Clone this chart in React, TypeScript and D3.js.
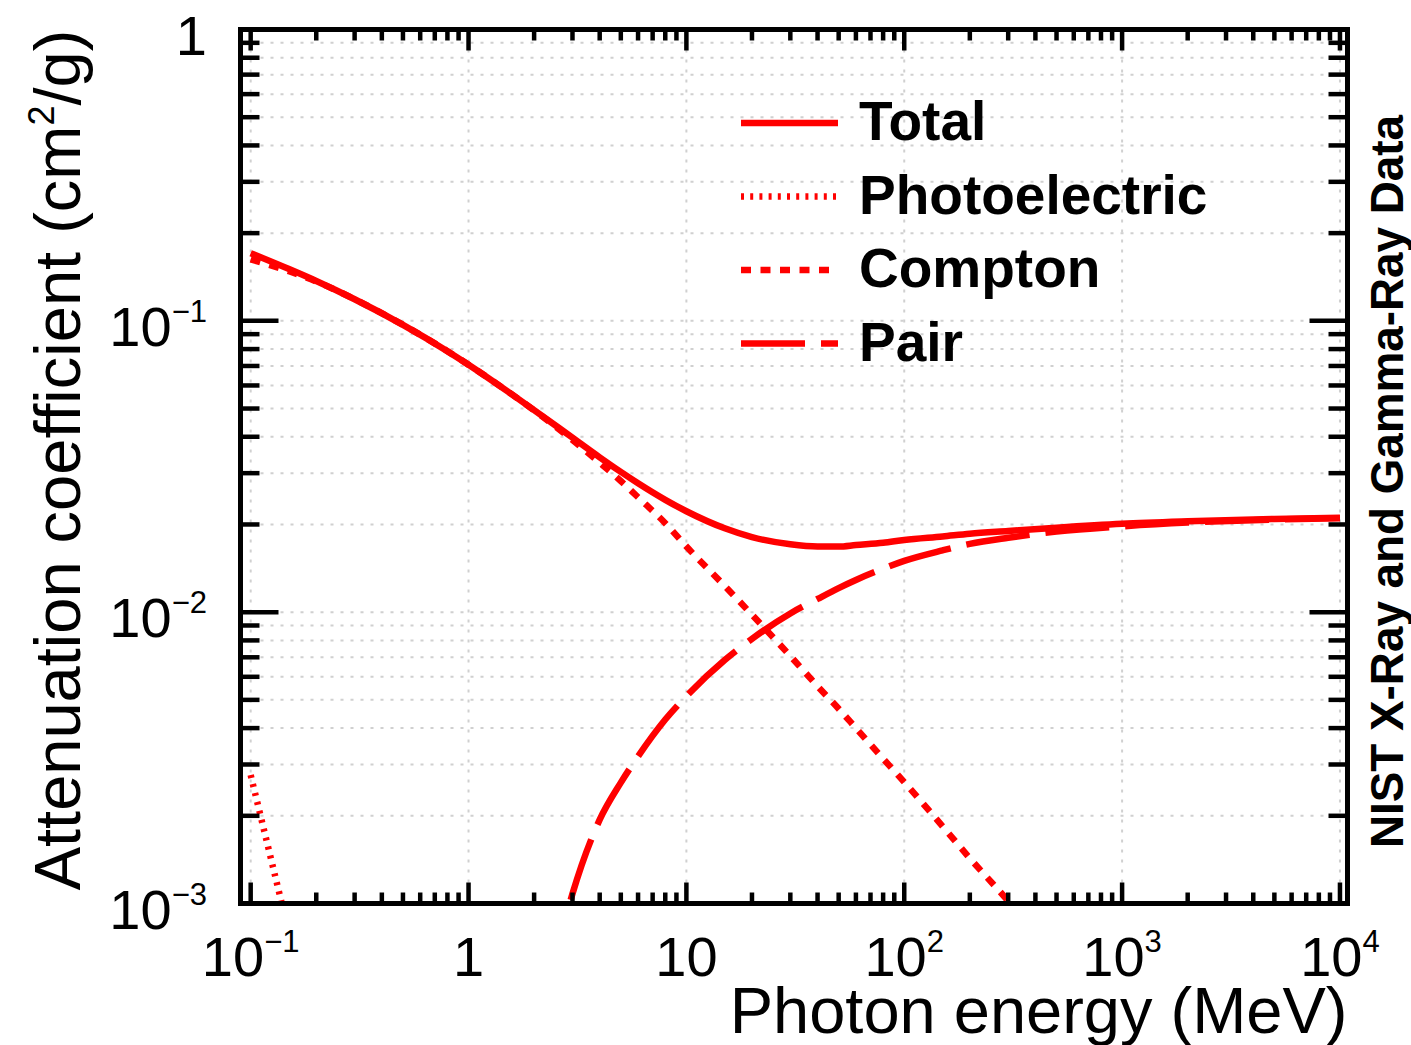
import * as d3 from "d3";
import { useMemo } from "react";

const WIDTH = 1411;
const HEIGHT = 1045;

const FRAME = {
  left: 240.5,
  right: 1347.5,
  top: 29.5,
  bottom: 903.5,
};

const X_DOMAIN: [number, number] = [0.0898, 10830];
const Y_DOMAIN: [number, number] = [1e-3, 1];

const FONT = "'Liberation Sans', Arial, Helvetica, sans-serif";
const RED = "#ff0000";

// photon energies (MeV) shared by every series
const ENERGY = [
  0.1, 0.15, 0.2, 0.3, 0.5, 0.8, 1, 1.5, 2, 3, 4, 5, 6, 8, 10, 15, 20, 30, 40,
  50, 60, 80, 100, 150, 200, 300, 500, 1000, 2000, 5000, 10000,
];

// cm2/g (null = not drawn)
const TOTAL = [
  0.1707, 0.1505, 0.137, 0.1186, 0.0969, 0.0787, 0.0707, 0.0575, 0.0494,
  0.0397, 0.034, 0.0303, 0.0277, 0.0243, 0.0222, 0.0194, 0.0181, 0.0171,
  0.0168, 0.0168, 0.017, 0.0173, 0.0177, 0.0182, 0.0186, 0.019, 0.0195,
  0.0201, 0.0205, 0.0209, 0.0211,
];

const PHOTO = [
  0.00276, 0.00079, null, null, null, null, null, null, null, null, null,
  null, null, null, null, null, null, null, null, null, null, null, null,
  null, null, null, null, null, null, null, null,
];

const COMPTON = [
  0.1626, 0.148, 0.1365, 0.1187, 0.0969, 0.0787, 0.0707, 0.0575, 0.0493,
  0.039, 0.0326, 0.0282, 0.0248, 0.0202, 0.0168, 0.0123, 0.0098, 0.00707,
  0.00557, 0.00466, 0.004, 0.00314, 0.00261, 0.00184, 0.00143, 0.00102,
  0.00064, null, null, null, null,
];

const PAIR = [
  null, null, null, null, null, null, null, null, 0.0003, 0.00108, 0.00194,
  0.0026, 0.0032, 0.00428, 0.00515, 0.00685, 0.0081, 0.0099, 0.0111,
  0.0121, 0.0129, 0.0141, 0.015, 0.0163, 0.01715, 0.018, 0.0189, 0.0197,
  0.0203, 0.0208, 0.021,
];

const SERIES_NAMES = ["Total", "Photoelectric", "Compton", "Pair"];
const SERIES_VALUES = [TOTAL, PHOTO, COMPTON, PAIR];
const SERIES_DASH = [undefined, "3 6.2", "10 9.5", "64 16"];

const X_MAJOR = [-1, 0, 1, 2, 3, 4];
const Y_MAJOR = [-3, -2, -1, 0];
const MINOR_STEPS = [2, 3, 4, 5, 6, 7, 8, 9];

const X_TITLE = "Photon energy (MeV)";
const SIDE_TEXT = "NIST X-Ray and Gamma-Ray Data";

function PowLabel({
  exp,
  x,
  y,
  anchor,
}: {
  exp: number;
  x: number;
  y: number;
  anchor: "middle" | "end";
}) {
  if (exp === 0 || exp === 1) {
    return (
      <text x={x} y={y} textAnchor={anchor} fontSize={56} fontFamily={FONT}>
        {exp === 0 ? "1" : "10"}
      </text>
    );
  }
  const sup = exp < 0 ? `\u2212${-exp}` : `${exp}`;
  return (
    <text x={x} y={y} textAnchor={anchor} fontSize={56} fontFamily={FONT}>
      10
      <tspan dy={-24} fontSize={31}>
        {sup}
      </tspan>
    </text>
  );
}

export default function App() {
  const xScale = useMemo(
    () => d3.scaleLog().domain(X_DOMAIN).range([FRAME.left, FRAME.right]),
    []
  );
  const yScale = useMemo(
    () => d3.scaleLog().domain(Y_DOMAIN).range([FRAME.bottom, FRAME.top]),
    []
  );

  const xMinor: number[] = [];
  X_MAJOR.slice(0, -1).forEach(e =>
    MINOR_STEPS.forEach(m => xMinor.push(m * Math.pow(10, e)))
  );
  const yMinor: number[] = [];
  Y_MAJOR.slice(0, -1).forEach(e =>
    MINOR_STEPS.forEach(m => yMinor.push(m * Math.pow(10, e)))
  );

  const lineGen = d3
    .line<[number, number | null]>()
    .defined(d => d[1] != null)
    .x(d => xScale(d[0]))
    .y(d => yScale(d[1] as number))
    .curve(d3.curveMonotoneX);

  const paths = SERIES_VALUES.map(
    vals => lineGen(ENERGY.map((e, i) => [e, vals[i]])) ?? ""
  );

  const yAll = [...Y_MAJOR.map(e => Math.pow(10, e)), ...yMinor];

  return (
    <svg
      width={WIDTH}
      height={HEIGHT}
      style={{ position: "absolute", left: 0, top: 0, background: "white" }}
    >
      <defs>
        <clipPath id="frame-clip">
          <rect
            x={FRAME.left}
            y={FRAME.top}
            width={FRAME.right - FRAME.left}
            height={FRAME.bottom - FRAME.top}
          />
        </clipPath>
      </defs>

      {/* GRID */}
      <g stroke="#d0d0d0" strokeWidth={2} strokeDasharray="3 7">
        {yAll
          .filter(v => v > Y_DOMAIN[0] && v < Y_DOMAIN[1])
          .map(v => (
            <line
              key={`gy${v}`}
              x1={FRAME.left}
              x2={FRAME.right}
              y1={yScale(v)}
              y2={yScale(v)}
            />
          ))}
        {X_MAJOR.map(e => (
          <line
            key={`gx${e}`}
            x1={xScale(Math.pow(10, e))}
            x2={xScale(Math.pow(10, e))}
            y1={FRAME.top}
            y2={FRAME.bottom}
          />
        ))}
      </g>

      {/* CURVES */}
      <g clipPath="url(#frame-clip)" fill="none" stroke={RED} strokeWidth={6.5}>
        {paths.map((d, i) => (
          <path key={SERIES_NAMES[i]} d={d} strokeDasharray={SERIES_DASH[i]} />
        ))}
      </g>

      {/* TICKS */}
      <g stroke="black" strokeWidth={4.5}>
        {Y_MAJOR.map(e => {
          const y = yScale(Math.pow(10, e));
          return (
            <g key={`ty${e}`}>
              <line x1={FRAME.left} x2={FRAME.left + 38} y1={y} y2={y} />
              <line x1={FRAME.right} x2={FRAME.right - 38} y1={y} y2={y} />
            </g>
          );
        })}
        {yMinor.map(v => {
          const y = yScale(v);
          return (
            <g key={`tym${v}`}>
              <line x1={FRAME.left} x2={FRAME.left + 19} y1={y} y2={y} />
              <line x1={FRAME.right} x2={FRAME.right - 19} y1={y} y2={y} />
            </g>
          );
        })}
        {X_MAJOR.map(e => {
          const x = xScale(Math.pow(10, e));
          return (
            <g key={`tx${e}`}>
              <line x1={x} x2={x} y1={FRAME.bottom} y2={FRAME.bottom - 21} />
              <line x1={x} x2={x} y1={FRAME.top} y2={FRAME.top + 21} />
            </g>
          );
        })}
        {xMinor.map(v => {
          const x = xScale(v);
          return (
            <g key={`txm${v}`}>
              <line x1={x} x2={x} y1={FRAME.bottom} y2={FRAME.bottom - 11} />
              <line x1={x} x2={x} y1={FRAME.top} y2={FRAME.top + 11} />
            </g>
          );
        })}
      </g>

      {/* FRAME */}
      <rect
        x={FRAME.left}
        y={FRAME.top}
        width={FRAME.right - FRAME.left}
        height={FRAME.bottom - FRAME.top}
        fill="none"
        stroke="black"
        strokeWidth={5}
      />

      {/* TICK LABELS */}
      {X_MAJOR.map(e => (
        <PowLabel
          key={`lx${e}`}
          exp={e}
          x={xScale(Math.pow(10, e))}
          y={976}
          anchor="middle"
        />
      ))}
      {Y_MAJOR.map(e => (
        <PowLabel
          key={`ly${e}`}
          exp={e}
          x={207}
          y={yScale(Math.pow(10, e)) + 25}
          anchor="end"
        />
      ))}

      {/* AXIS TITLES */}
      <text
        x={FRAME.right}
        y={1033}
        textAnchor="end"
        fontSize={65}
        fontFamily={FONT}
      >
        {X_TITLE}
      </text>
      <text
        transform="translate(80,460) rotate(-90)"
        textAnchor="middle"
        fontSize={65}
        fontFamily={FONT}
      >
        Attenuation coefficient (cm
        <tspan dy={-26} fontSize={36}>
          2
        </tspan>
        <tspan dy={26}>/g)</tspan>
      </text>
      <text
        transform="translate(1403,481.5) rotate(-90)"
        textAnchor="middle"
        fontSize={47}
        fontWeight="bold"
        fontFamily={FONT}
        textLength={733}
        lengthAdjust="spacingAndGlyphs"
      >
        {SIDE_TEXT}
      </text>

      {/* LEGEND */}
      {SERIES_NAMES.map((name, i) => {
        const y = 123 + i * 73.5;
        return (
          <g key={`leg${name}`}>
            <line
              x1={741}
              x2={838}
              y1={y}
              y2={y}
              stroke={RED}
              strokeWidth={6.5}
              strokeDasharray={SERIES_DASH[i]}
            />
            <text
              x={859}
              y={y + 17}
              fontSize={55}
              fontWeight="bold"
              fontFamily={FONT}
            >
              {name}
            </text>
          </g>
        );
      })}
    </svg>
  );
}
